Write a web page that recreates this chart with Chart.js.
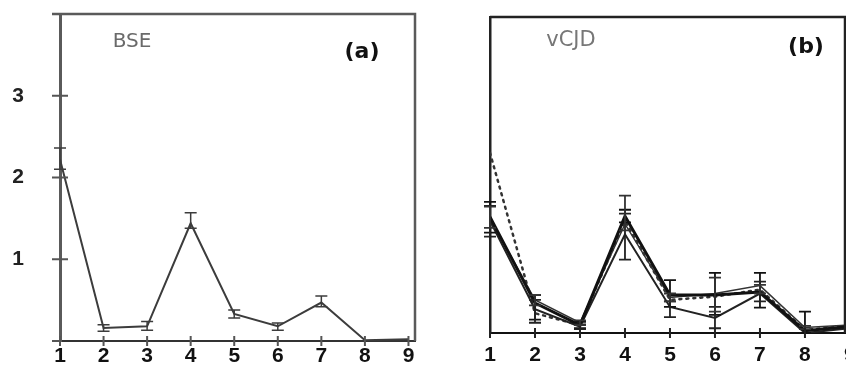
<!DOCTYPE html>
<html>
<head>
<meta charset="utf-8">
<script src="https://cdn.jsdelivr.net/npm/chart.js@4.4.1/dist/chart.umd.min.js"></script>
<style>
  html, body { margin: 0; padding: 0; background: #fff; overflow: hidden; width: 846px; height: 368px; }
  canvas { position: absolute; top: 0; }
  #chartA { left: 0; }
  #chartB { left: 430px; }
</style>
</head>
<body>
<canvas id="chartA" width="430" height="368"></canvas>
<canvas id="chartB" width="416" height="368"></canvas>
<script>
// x positions shared by both panels
const positions = [1, 2, 3, 4, 5, 6, 7, 8, 9];
const yTicks = [0, 1, 2, 3];

// panel (a) BSE
const bseValues = [2.22, 0.16, 0.18, 1.44, 0.33, 0.18, 0.47, 0.01, 0.02];
const bseLow    = [2.10, 0.12, 0.13, 1.38, 0.28, 0.13, 0.42, 0.01, 0.02];
const bseHigh   = [2.36, 0.20, 0.24, 1.57, 0.38, 0.22, 0.55, 0.01, 0.02];

// panel (b) vCJD, several overlapping series
const vcjd1     = [1.47, 0.38, 0.10, 1.48, 0.48, 0.48, 0.52, 0.03, 0.08];
const vcjd1Low  = [1.27, 0.17, 0.06, 1.40, 0.33, 0.23, 0.32, 0.00, 0.08];
const vcjd1High = [1.66, 0.48, 0.14, 1.56, 0.67, 0.76, 0.76, 0.27, 0.08];

const vcjd2     = [1.42, 0.30, 0.08, 1.25, 0.33, 0.19, 0.50, 0.00, 0.06];
const vcjd2Low  = [1.22, 0.13, 0.05, 0.93, 0.20, 0.06, 0.40, 0.00, 0.06];
const vcjd2High = [1.61, 0.42, 0.11, 1.51, 0.40, 0.33, 0.65, 0.00, 0.06];

const vcjd3     = [1.45, 0.42, 0.13, 1.38, 0.45, 0.50, 0.60, 0.07, 0.10];
const vcjd3Low  = [1.33, 0.35, 0.10, 1.30, 0.40, 0.27, 0.50, 0.05, 0.10];
const vcjd3High = [1.60, 0.48, 0.16, 1.74, 0.50, 0.70, 0.61, 0.09, 0.10];

const vcjdDotted = [2.28, 0.25, 0.10, 1.42, 0.42, 0.46, 0.55, 0.04, 0.09];

const toPoints = (vals) => vals.map((v, i) => ({ x: positions[i], y: v }));

// draws error bars, crossing ticks, frame and panel captions
const panelDecor = {
    id: 'panelDecor',
    afterDatasetsDraw(chart, args, opts) {
        const ctx = chart.ctx;
        const xs = chart.scales.x;
        const ys = chart.scales.y;
        const area = chart.chartArea;

        ctx.save();
        // error bars
        chart.data.datasets.forEach(ds => {
            if (!ds.errLow) return;
            ctx.strokeStyle = ds.borderColor;
            ctx.lineWidth = opts.errWidth;
            ds.errLow.forEach((lo, i) => {
                const hi = ds.errHigh[i];
                if (hi - lo < 0.01) return;
                const px = xs.getPixelForValue(positions[i]);
                const pLo = ys.getPixelForValue(lo);
                const pHi = ys.getPixelForValue(hi);
                ctx.beginPath();
                ctx.moveTo(px, pLo); ctx.lineTo(px, pHi);
                ctx.moveTo(px - opts.cap, pLo); ctx.lineTo(px + opts.cap, pLo);
                ctx.moveTo(px - opts.cap, pHi); ctx.lineTo(px + opts.cap, pHi);
                ctx.stroke();
            });
        });

        // frame top and right
        ctx.strokeStyle = opts.frameColor;
        ctx.lineWidth = opts.frameWidth;
        ctx.beginPath();
        ctx.moveTo(area.left - opts.frameExt, area.top);
        ctx.lineTo(area.right, area.top);
        ctx.lineTo(area.right, area.bottom);
        ctx.stroke();

        // ticks crossing the axes
        ctx.strokeStyle = opts.tickColor;
        ctx.lineWidth = 2;
        ctx.beginPath();
        positions.forEach(v => {
            const px = xs.getPixelForValue(v);
            ctx.moveTo(px, area.bottom - 5); ctx.lineTo(px, area.bottom + 5);
        });
        if (opts.yTickMarks) {
            yTicks.forEach(v => {
                const py = ys.getPixelForValue(v);
                ctx.moveTo(area.left - 8, py); ctx.lineTo(area.left + (v === 0 ? 0 : 8), py);
            });
        }
        ctx.stroke();

        // captions
        (opts.captions || []).forEach(c => {
            ctx.font = c.font;
            ctx.fillStyle = c.color;
            ctx.textAlign = 'center';
            ctx.textBaseline = 'middle';
            ctx.fillText(c.text, c.x, c.y);
        });
        ctx.restore();
    }
};

function makeOptions(cfg) {
    return {
        responsive: false,
        animation: false,
        layout: { padding: { top: cfg.top, right: cfg.right, left: 0, bottom: 0 } },
        plugins: {
            legend: { display: false },
            tooltip: { enabled: false },
            panelDecor: cfg.decor
        },
        elements: { point: { radius: 0 }, line: { tension: 0 } },
        scales: {
            x: {
                type: 'linear',
                min: 1,
                max: cfg.xMax,
                afterBuildTicks: s => { s.ticks = positions.map(v => ({ value: v })); },
                afterFit: s => {
                    s.height = cfg.xHeight;
                    s.paddingLeft = 0;
                    s.paddingRight = 0;
                },
                grid: { display: false, drawTicks: false },
                border: { display: true, color: cfg.xAxisColor, width: 2 },
                ticks: {
                    padding: cfg.xPad,
                    color: '#111',
                    font: { family: 'Liberation Sans, Arial', size: 21, weight: 'bold' },
                    callback: v => String(v)
                }
            },
            y: {
                min: 0,
                max: 4,
                afterBuildTicks: s => { s.ticks = yTicks.map(v => ({ value: v })); },
                afterFit: s => {
                    s.width = 60;
                    s.paddingTop = 0;
                    s.paddingBottom = 0;
                },
                grid: { display: false, drawTicks: false },
                border: { display: true, color: cfg.yAxisColor, width: cfg.yAxisWidth },
                ticks: {
                    display: cfg.yLabels,
                    padding: 36,
                    color: '#222',
                    font: { family: 'Liberation Sans, Arial', size: 21, weight: 'bold' },
                    callback: v => (v === 0 ? '' : String(v))
                }
            }
        }
    };
}

new Chart(document.getElementById('chartA'), {
    type: 'line',
    data: {
        datasets: [{
            data: toPoints(bseValues),
            errLow: bseLow,
            errHigh: bseHigh,
            borderColor: '#3c3c3c',
            borderWidth: 2
        }]
    },
    options: makeOptions({
        top: 14, right: 15, xHeight: 27, xPad: 3, xMax: 9.15,
        xAxisColor: '#333', yAxisColor: '#5a5a5a', yAxisWidth: 3, yLabels: true,
        decor: {
            errWidth: 1.5, cap: 6, frameColor: '#5a5a5a', frameWidth: 2.5, frameExt: 8,
            tickColor: '#555', yTickMarks: true,
            captions: [
                { text: 'BSE', x: 132, y: 42, font: '20px DejaVu Sans', color: '#6a6a6a' },
                { text: '(a)', x: 362, y: 52, font: 'bold 22px DejaVu Sans', color: '#111' }
            ]
        }
    }),
    plugins: [panelDecor]
});

new Chart(document.getElementById('chartB'), {
    type: 'line',
    data: {
        datasets: [
            { data: toPoints(vcjd1), errLow: vcjd1Low, errHigh: vcjd1High, borderColor: '#111', borderWidth: 3 },
            { data: toPoints(vcjd2), errLow: vcjd2Low, errHigh: vcjd2High, borderColor: '#222', borderWidth: 2 },
            { data: toPoints(vcjd3), errLow: vcjd3Low, errHigh: vcjd3High, borderColor: '#333', borderWidth: 1.5 },
            { data: toPoints(vcjdDotted), borderColor: '#333', borderWidth: 2.5, borderDash: [2, 5], borderCapStyle: 'round' }
        ]
    },
    options: makeOptions({
        top: 17, right: 1, xHeight: 35, xPad: 10, xMax: 8.89,
        xAxisColor: '#111', yAxisColor: '#222', yAxisWidth: 2.5, yLabels: false,
        decor: {
            errWidth: 1.8, cap: 6, frameColor: '#222', frameWidth: 2.5, frameExt: 0,
            tickColor: '#222', yTickMarks: false,
            captions: [
                { text: 'vCJD', x: 141, y: 41, font: '21px DejaVu Sans', color: '#777' },
                { text: '(b)', x: 376, y: 47, font: 'bold 22px DejaVu Sans', color: '#111' }
            ]
        }
    }),
    plugins: [panelDecor]
});
</script>
</body>
</html>
